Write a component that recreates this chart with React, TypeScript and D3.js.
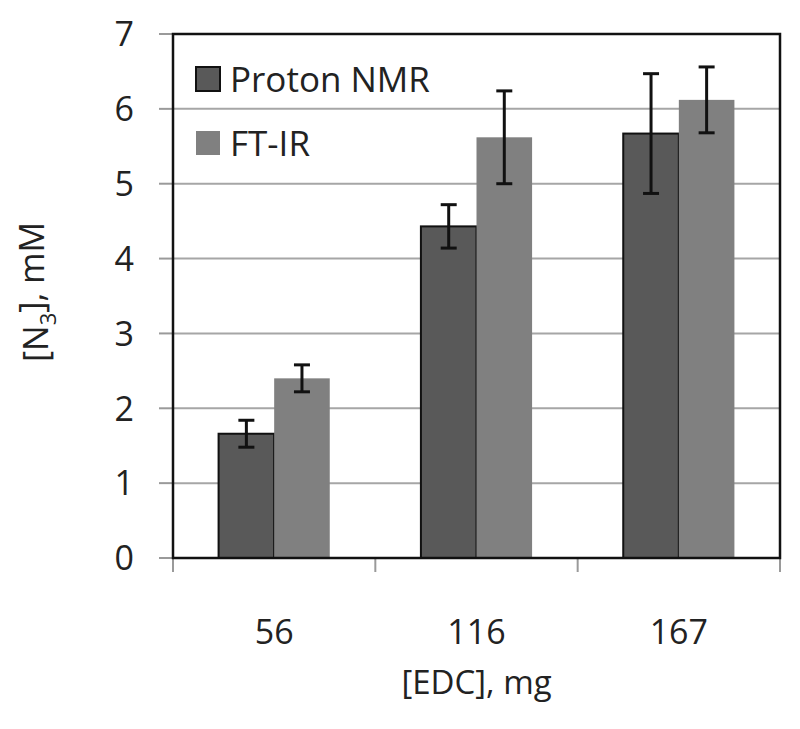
import { scaleBand, scaleLinear } from "d3";

// categories / series
const categories = ["56", "116", "167"];
const seriesNames = ["Proton NMR", "FT-IR"];
const nmrValues = [1.66, 4.43, 5.67];
const nmrErrors = [0.18, 0.29, 0.8];
const ftirValues = [2.4, 5.62, 6.12];
const ftirErrors = [0.18, 0.62, 0.44];
const yTicks = [0, 1, 2, 3, 4, 5, 6, 7];

const seriesColors = ["#595959", "#808080"];

const W = 800;
const H = 729;
const margin = { left: 173, right: 20, top: 34, bottom: 171 };
const FONT = "'Open Sans', 'Noto Sans', sans-serif";

const App = () => {
  const innerW = W - margin.left - margin.right;
  const innerH = H - margin.top - margin.bottom;

  // skale
  const x0 = scaleBand<string>().domain(categories).range([0, innerW]).padding(0);
  const x1 = scaleBand<string>()
    .domain(seriesNames)
    .range([0, x0.bandwidth()])
    .paddingInner(0)
    .paddingOuter(0.82);
  const y = scaleLinear().domain([0, 7]).range([innerH, 0]);

  const series = [
    { name: seriesNames[0], values: nmrValues, errors: nmrErrors, color: seriesColors[0], outline: true },
    { name: seriesNames[1], values: ftirValues, errors: ftirErrors, color: seriesColors[1], outline: false },
  ];

  const capHalf = 8;

  return (
    <div style={{ position: "absolute", left: 0, top: 0 }}>
      <svg width={W} height={H} style={{ display: "block", background: "#fff" }}>
        <g transform={`translate(${margin.left},${margin.top})`} fontFamily={FONT}>
          {/* gridlines + ticki osi Y */}
          {yTicks.map((t) => (
            <g key={t}>
              {t > 0 && t < 7 && (
                <line x1={0} x2={innerW} y1={y(t)} y2={y(t)} stroke="#a6a6a6" strokeWidth={2} />
              )}
              <line x1={-14} x2={0} y1={y(t)} y2={y(t)} stroke="#9a9a9a" strokeWidth={2} />
              <text x={-39} y={y(t)} dy="0.36em" textAnchor="end" fontSize={34} fill="#222">
                {t}
              </text>
            </g>
          ))}

          {/* ticki osi X - na granicach kategorii */}
          {[...categories.map((c) => x0(c) as number), innerW].map((xv, i) => (
            <line key={i} x1={xv} x2={xv} y1={innerH} y2={innerH + 14} stroke="#9a9a9a" strokeWidth={2} />
          ))}

          {/* slupki */}
          {series.map((s) =>
            categories.map((c, i) => {
              const bx = (x0(c) as number) + (x1(s.name) as number);
              const bw = x1.bandwidth();
              return (
                <rect
                  key={s.name + c}
                  x={bx}
                  y={y(s.values[i])}
                  width={bw}
                  height={innerH - y(s.values[i])}
                  fill={s.color}
                  stroke={s.outline ? "#111" : "none"}
                  strokeWidth={2}
                />
              );
            })
          )}

          {/* error bars */}
          {series.map((s) =>
            categories.map((c, i) => {
              const cx = (x0(c) as number) + (x1(s.name) as number) + x1.bandwidth() / 2;
              const hi = y(s.values[i] + s.errors[i]);
              const lo = y(s.values[i] - s.errors[i]);
              return (
                <g key={"err" + s.name + c} stroke="#111" strokeWidth={3}>
                  <line x1={cx} x2={cx} y1={hi} y2={lo} />
                  <line x1={cx - capHalf} x2={cx + capHalf} y1={hi} y2={hi} />
                  <line x1={cx - capHalf} x2={cx + capHalf} y1={lo} y2={lo} />
                </g>
              );
            })
          )}

          {/* ramka obszaru wykresu */}
          <rect x={0} y={0} width={innerW} height={innerH} fill="none" stroke="#111" strokeWidth={2.5} />

          {/* etykiety kategorii */}
          {categories.map((c) => (
            <text
              key={c}
              x={(x0(c) as number) + x0.bandwidth() / 2}
              y={innerH + 74}
              dy="0.36em"
              textAnchor="middle"
              fontSize={34}
              fill="#222"
            >
              {c}
            </text>
          ))}

          {/* tytuly osi */}
          <text x={innerW / 2} y={innerH + 124} dy="0.36em" textAnchor="middle" fontSize={33} fill="#222">
            [EDC], mg
          </text>
          <text
            transform={`translate(${-137},${innerH / 2 - 4}) rotate(-90)`}
            dy="0.36em"
            textAnchor="middle"
            fontSize={34}
            fill="#222"
          >
            [N
            <tspan fontSize={22} dy="0.35em">3</tspan>
            <tspan dy="-0.35em">], mM</tspan>
          </text>

          {/* legenda */}
          {series.map((s, i) => (
            <g key={"leg" + s.name} transform={`translate(23,${33 + i * 64})`}>
              <rect
                x={0}
                y={0}
                width={24}
                height={24}
                fill={s.color}
                stroke={s.outline ? "#111" : "none"}
                strokeWidth={2}
              />
              <text x={34} y={12} dy="0.36em" fontSize={35} fill="#222">
                {s.name}
              </text>
            </g>
          ))}
        </g>
      </svg>
    </div>
  );
};

export default App;
